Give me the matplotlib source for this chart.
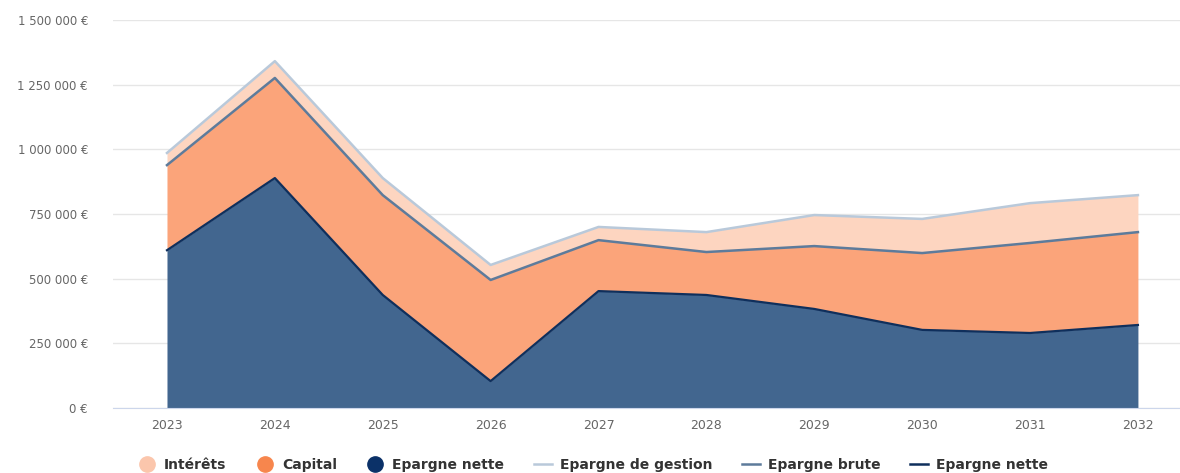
import numpy as np
import matplotlib.pyplot as plt
from matplotlib.lines import Line2D

years = [2023, 2024, 2025, 2026, 2027, 2028, 2029, 2030, 2031, 2032]
# stack components (EUR)
epargne_nette = [610000, 889000, 437000, 104000, 452000, 437000, 383000, 302000, 290000, 321000]
capital = [329000, 387000, 386000, 391000, 197000, 166000, 243000, 297000, 348000, 359000]
interets = [47000, 65000, 66000, 58000, 51000, 77000, 120000, 132000, 154000, 143000]

yticks = [0, 250000, 500000, 750000, 1000000, 1250000, 1500000]

def fmt_eur(v):
    return "{:,}".format(v).replace(",", " ") + " €"

x = np.array(years)
nette = np.array(epargne_nette)
brute = nette + np.array(capital)
gestion = brute + np.array(interets)

fig = plt.figure(figsize=(11.8, 4.73), dpi=100)
ax = fig.add_axes([0.0958, 0.1374, 0.9042, 0.8203])

ax.fill_between(x, brute, gestion, color="#fdd5c0", lw=0)
ax.fill_between(x, nette, brute, color="#fba47a", lw=0)
ax.fill_between(x, 0, nette, color="#42668f", lw=0)

ax.plot(x, gestion, color="#b9c9da", lw=1.8)
ax.plot(x, brute, color="#5d7b9b", lw=1.8)
ax.plot(x, nette, color="#0f2f5c", lw=1.6)

ax.set_xlim(2022.5, 2032.39)
ax.set_ylim(0, 1500000)
ax.set_yticks(yticks)
ax.set_yticklabels([fmt_eur(v) for v in yticks])
ax.set_xticks(years)
ax.set_xticklabels([str(y) for y in years])
ax.tick_params(axis="y", length=0, labelsize=8.5, labelcolor="#666666", pad=18)
ax.tick_params(axis="x", length=0, labelsize=9, labelcolor="#666666", pad=8)
ax.grid(axis="y", color="#e6e6e6", lw=1)
ax.set_axisbelow(True)
for s in ["top", "right", "left"]:
    ax.spines[s].set_visible(False)
ax.spines["bottom"].set_color("#ccd6eb")

handles = [
    Line2D([], [], ls="", marker="o", ms=11, color="#fbc6ac"),
    Line2D([], [], ls="", marker="o", ms=11, color="#f7864d"),
    Line2D([], [], ls="", marker="o", ms=11, color="#0b3168"),
    Line2D([], [], color="#b9c9da", lw=1.8),
    Line2D([], [], color="#5d7b9b", lw=1.8),
    Line2D([], [], color="#0f2f5c", lw=1.8),
]
labels = ["Intérêts", "Capital", "Epargne nette", "Epargne de gestion", "Epargne brute", "Epargne nette"]
leg = fig.legend(handles, labels, loc="lower left", bbox_to_anchor=(0.106, -0.025), ncol=6,
                 frameon=False, fontsize=10, handlelength=1.3, handletextpad=0.6, columnspacing=2.1)
for t in leg.get_texts():
    t.set_color("#333333")
    t.set_fontweight("semibold")

fig.savefig("out.png", dpi=100)
